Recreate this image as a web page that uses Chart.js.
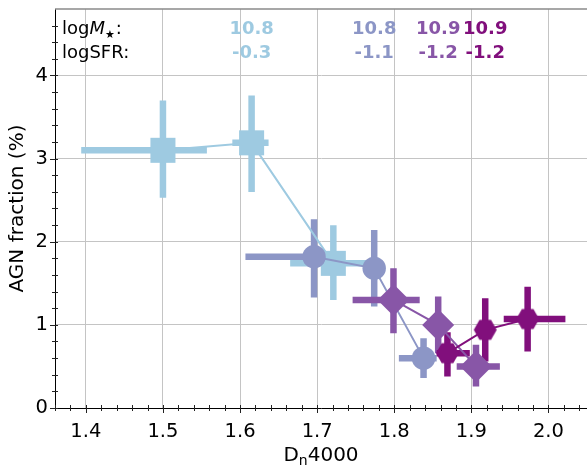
<!DOCTYPE html>
<html><head><meta charset="utf-8">
<script src="https://cdn.jsdelivr.net/npm/chart.js@4"></script>
<style>html,body{margin:0;padding:0;background:#fff}#wrap{width:587px;height:467px}</style>
</head><body><div id="wrap"><canvas id="c" width="587" height="467"></canvas></div>
<script>
// ---- data ----
const xTicks = [1.4, 1.5, 1.6, 1.7, 1.8, 1.9, 2.0];
const yTicks = [0, 1, 2, 3, 4];
const xMin = 1.36, xMax = 2.05, yMin = 0, yMax = 4.8;
const colors = ['#9ecae1', '#8c96c6', '#8856a7', '#810f7c'];
const logMass = ['10.8', '10.8', '10.9', '10.9'];
const logSFR = ['-0.3', '-1.1', '-1.2', '-1.2'];

const s1X = [1.500, 1.615, 1.721];
const s1Y = [3.10, 3.19, 1.74];
const s1XLo = [0.106, 0.025, 0.056];
const s1XHi = [0.057, 0.022, 0.050];
const s1YLo = [0.57, 0.59, 0.44];
const s1YHi = [0.60, 0.57, 0.46];

const s2X = [1.696, 1.774, 1.838];
const s2Y = [1.82, 1.68, 0.60];
const s2XLo = [0.089, 0.010, 0.032];
const s2XHi = [0.030, 0.010, 0.017];
const s2YLo = [0.49, 0.46, 0.24];
const s2YHi = [0.45, 0.46, 0.24];

const s3X = [1.799, 1.857, 1.906];
const s3Y = [1.30, 1.00, 0.50];
const s3XLo = [0.053, 0.010, 0.025];
const s3XHi = [0.034, 0.010, 0.031];
const s3YLo = [0.40, 0.34, 0.24];
const s3YHi = [0.38, 0.34, 0.26];

const s4X = [1.869, 1.918, 1.973];
const s4Y = [0.66, 0.94, 1.07];
const s4XLo = [0.014, 0.010, 0.031];
const s4XHi = [0.029, 0.010, 0.049];
const s4YLo = [0.28, 0.38, 0.39];
const s4YHi = [0.25, 0.38, 0.39];

const series = [
  {x: s1X, y: s1Y, xlo: s1XLo, xhi: s1XHi, ylo: s1YLo, yhi: s1YHi},
  {x: s2X, y: s2Y, xlo: s2XLo, xhi: s2XHi, ylo: s2YLo, yhi: s2YHi},
  {x: s3X, y: s3Y, xlo: s3XLo, xhi: s3XHi, ylo: s3YLo, yhi: s3YHi},
  {x: s4X, y: s4Y, xlo: s4XLo, xhi: s4XHi, ylo: s4YLo, yhi: s4YHi}
];

// ---- styles ----
const FONT = '"DejaVu Sans", sans-serif';
function hexCanvas(color, r) {
  const s = Math.ceil(2 * r + 2);
  const c = document.createElement('canvas');
  c.width = c.height = s;
  const g = c.getContext('2d');
  g.fillStyle = color;
  g.beginPath();
  for (let k = 0; k < 6; k++) {
    const a = Math.PI / 3 * k;
    const px = s / 2 + r * Math.cos(a), py = s / 2 + r * Math.sin(a);
    k ? g.lineTo(px, py) : g.moveTo(px, py);
  }
  g.closePath(); g.fill();
  return c;
}
const pointStyles = ['rect', 'circle', 'rectRot', hexCanvas(colors[3], 11.5)];
const pointRadii = [17.7, 11.7, 16, 11.5];

const datasets = series.map((s, i) => ({
  data: s.x.map((xv, j) => ({x: xv, y: s.y[j]})),
  showLine: true,
  borderColor: colors[i],
  borderWidth: 2,
  backgroundColor: colors[i],
  pointBackgroundColor: colors[i],
  pointBorderWidth: 0,
  pointStyle: pointStyles[i],
  pointRadius: pointRadii[i],
  pointHoverRadius: pointRadii[i],
  order: 4 - i,
  tension: 0,
  clip: false
}));

const errPlugin = {
  id: 'errbars',
  beforeDatasetsDraw(chart) {
    const {ctx, scales: {x, y}} = chart;
    ctx.save();
    ctx.lineCap = 'butt';
    ctx.lineWidth = 6.5;
    series.forEach((s, i) => {
      ctx.strokeStyle = colors[i];
      s.x.forEach((xv, j) => {
        const py = y.getPixelForValue(s.y[j]);
        const px = x.getPixelForValue(xv);
        ctx.beginPath();
        ctx.moveTo(x.getPixelForValue(xv - s.xlo[j]), py);
        ctx.lineTo(x.getPixelForValue(xv + s.xhi[j]), py);
        ctx.moveTo(px, y.getPixelForValue(s.y[j] - s.ylo[j]));
        ctx.lineTo(px, y.getPixelForValue(s.y[j] + s.yhi[j]));
        ctx.stroke();
      });
    });
    ctx.restore();
  },
  afterDatasetsDraw(chart) {
    const {ctx, scales: {x, y}, chartArea: ca} = chart;
    ctx.save();
    // top spine
    ctx.strokeStyle = '#8a8a8a'; ctx.lineWidth = 1.5;
    ctx.beginPath(); ctx.moveTo(ca.left, ca.top); ctx.lineTo(ca.right, ca.top); ctx.stroke();
    // ticks
    ctx.strokeStyle = '#222'; ctx.lineWidth = 1;
    ctx.beginPath();
    xTicks.forEach(v => { const p = Math.round(x.getPixelForValue(v)) + 0.5; ctx.moveTo(p, ca.bottom - 3); ctx.lineTo(p, ca.bottom + 5); });
    for (let v = 1.36; v < xMax; v += 0.02) {
      const p = Math.round(x.getPixelForValue(v)) + 0.5; ctx.moveTo(p, ca.bottom - 3); ctx.lineTo(p, ca.bottom + 3);
    }
    yTicks.forEach(v => { const p = Math.round(y.getPixelForValue(v)) + 0.5; ctx.moveTo(ca.left - 5, p); ctx.lineTo(ca.left + 3, p); });
    for (let k = 1; k < 24; k++) {
      const p = Math.round(y.getPixelForValue(k * 0.2)) + 0.5; ctx.moveTo(ca.left - 3, p); ctx.lineTo(ca.left + 3, p);
    }
    ctx.stroke();

    // annotation text
    ctx.fillStyle = '#000';
    ctx.textBaseline = 'alphabetic';
    ctx.textAlign = 'left';
    let tx = 62;
    ctx.font = '18px ' + FONT; ctx.fillText('log', tx, 33.5); tx += ctx.measureText('log').width;
    ctx.font = 'italic 18px ' + FONT; ctx.fillText('M', tx, 33.5); tx += ctx.measureText('M').width;
    ctx.font = '11px ' + FONT; ctx.fillText('★', tx, 37.5); tx += ctx.measureText('★').width;
    ctx.font = '18px ' + FONT; ctx.fillText(':', tx + 1, 33.5);
    ctx.fillText('logSFR:', 62, 57.5);

    ctx.textAlign = 'center';
    ctx.font = 'bold 18px ' + FONT;
    series.forEach((s, i) => {
      const px = x.getPixelForValue(s.x[1]);
      ctx.fillStyle = colors[i];
      ctx.fillText(logMass[i], px, 33.5);
      ctx.fillText(logSFR[i], px, 57.5);
    });

    // axis titles
    ctx.fillStyle = '#000';
    ctx.font = '20px ' + FONT;
    const w1 = ctx.measureText('D').width, w3 = ctx.measureText('4000').width;
    ctx.font = '14px ' + FONT;
    const w2 = ctx.measureText('n').width;
    const cx = (ca.left + ca.right) / 2;
    let sx = cx - (w1 + w2 + w3) / 2;
    ctx.textAlign = 'left';
    ctx.font = '20px ' + FONT; ctx.fillText('D', sx, 461); sx += w1;
    ctx.font = '14px ' + FONT; ctx.fillText('n', sx, 465); sx += w2;
    ctx.font = '20px ' + FONT; ctx.fillText('4000', sx, 461);

    ctx.translate(18, (ca.top + ca.bottom) / 2);
    ctx.rotate(-Math.PI / 2);
    ctx.textAlign = 'center'; ctx.textBaseline = 'middle';
    ctx.fillText('AGN fraction (%)', 0, 0);
    ctx.restore();
  }
};

new Chart(document.getElementById('c'), {
  type: 'scatter',
  data: {datasets},
  options: {
    responsive: false,
    animation: false,
    events: [],
    layout: {autoPadding: false, padding: {top: 9, right: 0, left: 0, bottom: 0}},
    plugins: {legend: {display: false}, tooltip: {enabled: false}},
    scales: {
      x: {
        type: 'linear', min: xMin, max: xMax,
        afterBuildTicks: s => { s.ticks = xTicks.map(v => ({value: v})); },
        afterFit: s => { s.height = 59; s.paddingLeft = 0; s.paddingRight = 0; },
        grid: {color: '#c4c4c4', lineWidth: 1, drawTicks: false},
        border: {display: true, color: '#000', width: 1},
        ticks: {font: {family: FONT, size: 19.5}, color: '#000', padding: 12, maxRotation: 0,
          callback: v => Number(v).toFixed(1)}
      },
      y: {
        type: 'linear', min: yMin, max: yMax,
        afterBuildTicks: s => { s.ticks = yTicks.map(v => ({value: v})); },
        afterFit: s => { s.width = 55; s.paddingTop = 0; s.paddingBottom = 0; },
        grid: {color: '#c4c4c4', lineWidth: 1, drawTicks: false},
        border: {display: true, color: '#000', width: 1},
        ticks: {font: {family: FONT, size: 19.5}, color: '#000', padding: 7,
          callback: v => String(v)}
      }
    }
  },
  plugins: [errPlugin]
});
</script>
</body></html>
